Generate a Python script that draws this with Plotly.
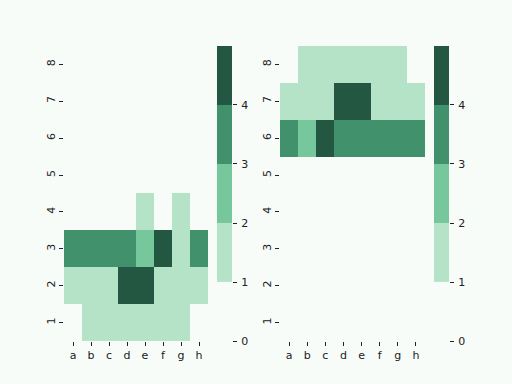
import plotly.graph_objects as go

files = ["a", "b", "c", "d", "e", "f", "g", "h"]
ranks = [1, 2, 3, 4, 5, 6, 7, 8]

# rows = ranks 1..8, columns = files a..h ; None = empty square
white = [
    [None, 1, 1, 1, 1, 1, 1, None],
    [1, 1, 1, 4, 4, 1, 1, 1],
    [3, 3, 3, 3, 2, 4, 1, 3],
    [None, None, None, None, 1, None, 1, None],
    [None] * 8,
    [None] * 8,
    [None] * 8,
    [None] * 8,
]
black = [
    [None] * 8,
    [None] * 8,
    [None] * 8,
    [None] * 8,
    [None] * 8,
    [3, 2, 4, 3, 3, 3, 3, 3],
    [1, 1, 1, 4, 4, 1, 1, 1],
    [None, 1, 1, 1, 1, 1, 1, None],
]
cbar_levels = [1, 2, 3, 4]
cbar_ticks = [0, 1, 2, 3, 4]

colors = ["#b5e3c7", "#76c79c", "#40916c", "#245741"]
cs = [[0, colors[0]], [1/6, colors[0]], [1/6, colors[1]], [0.5, colors[1]],
      [0.5, colors[2]], [5/6, colors[2]], [5/6, colors[3]], [1, colors[3]]]

W, H = 512, 384
Heff = 378
bg = "#f7fcf9"
font = dict(family="DejaVu Sans", size=11, color="#222222")

ybot, ytop = 1 - 342 / Heff, 1 - 46 / Heff
panels = [
    (white, (64 / W, 208 / W), (217 / W, 232 / W)),
    (black, (280 / W, 425 / W), (434 / W, 449 / W)),
]

fig = go.Figure()
layout = {}
n = 1
for z, hd, cd in panels:
    xa, ya = f"x{n}", f"y{n}"
    fig.add_trace(go.Heatmap(z=z, x=list(range(8)), y=ranks, colorscale=cs,
                             zmin=1, zmax=4, showscale=False, xgap=0, ygap=0,
                             hoverongaps=False, xaxis=xa, yaxis=ya))
    layout[f"xaxis{n}"] = dict(domain=list(hd), range=[-0.5, 7.5], tickvals=list(range(8)),
                               ticktext=files, ticks="outside", ticklen=4, tickcolor="#222",
                               showgrid=False, zeroline=False, showline=False, anchor=ya,
                               fixedrange=True)
    layout[f"yaxis{n}"] = dict(domain=[ybot, ytop], range=[0.5, 8.5], tickvals=ranks,
                               ticktext=[str(r) for r in ranks], tickangle=-90,
                               ticks="outside", ticklen=4, tickcolor="#222",
                               showgrid=False, zeroline=False, showline=False, anchor=xa)
    n += 1
    xa, ya = f"x{n}", f"y{n}"
    fig.add_trace(go.Heatmap(z=[[v] for v in cbar_levels], x=[0],
                             y=[v + 0.5 for v in cbar_levels], colorscale=cs, zmin=1, zmax=4,
                             showscale=False, hoverinfo="skip", xaxis=xa, yaxis=ya))
    layout[f"xaxis{n}"] = dict(domain=list(cd), range=[-0.5, 0.5], showticklabels=False,
                               ticks="", showgrid=False, zeroline=False, showline=False, anchor=ya)
    layout[f"yaxis{n}"] = dict(domain=[ybot, ytop], range=[0, 5], tickvals=cbar_ticks,
                               side="right", ticks="outside", ticklen=4, tickcolor="#222",
                               ticklabelstandoff=2,
                               showgrid=False, zeroline=False, showline=False, anchor=xa)
    n += 1

fig.update_layout(width=W, height=H, margin=dict(l=0, r=0, t=0, b=0),
                  paper_bgcolor=bg, plot_bgcolor=bg, font=font, showlegend=False, **layout)
fig.write_html("out.html")
